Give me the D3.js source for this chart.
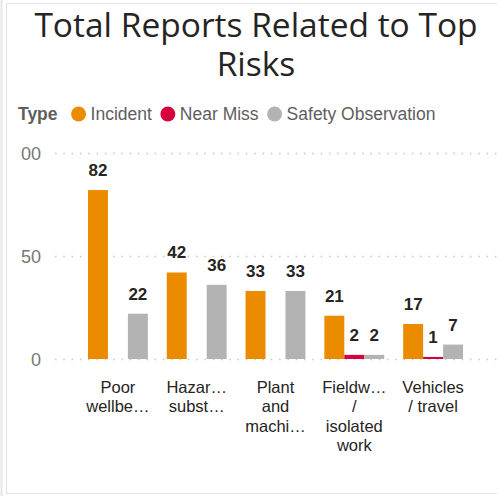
<!DOCTYPE html>
<html>
<head>
<meta charset="utf-8">
<script src="https://cdn.jsdelivr.net/npm/d3@7"></script>
<style>
    body { margin: 0; background: #fff; }
    svg { display: block; }
</style>
</head>
<body>
<svg id="mainSvg" width="497" height="496"></svg>
<script>
// Data
let categories = ["Poor wellbeing", "Hazardous substances", "Plant and machinery", "Fieldwork / isolated work", "Vehicles / travel"];
let labelLines = [
    ["Poor", "wellbe\u2026"],
    ["Hazar\u2026", "subst\u2026"],
    ["Plant", "and", "machi\u2026"],
    ["Fieldw\u2026", "/", "isolated", "work"],
    ["Vehicles", "/ travel"],
];
let types = ["Incident", "Near Miss", "Safety Observation"];
let incident = [82, 42, 33, 21, 17];
let nearMiss = [null, null, null, 2, 1];
let safetyObs = [22, 36, 33, 2, 7];
let yTicks = [0, 50, 100];
let colors = ["#EB8C00", "#D6003D", "#B3B3B3"];

let svg = d3.select("#mainSvg");

// card frame
svg.append("line").attr("x1", 1.5).attr("x2", 1.5).attr("y1", 0).attr("y2", 496)
    .attr("stroke", "#e6e6e6").attr("stroke-width", 2);
svg.append("rect").attr("x", 6.5).attr("y", 3.5).attr("width", 500).attr("height", 490)
    .attr("fill", "none").attr("stroke", "#e3e3e3");

// title (two lines, as wrapped in the reference)
let titleLines = ["Total Reports Related to Top", "Risks"];
svg.append("g")
    .selectAll("text")
    .data(titleLines)
    .join("text")
    .attr("x", 256)
    .attr("y", (d, i) => 37 + i * 39)
    .attr("text-anchor", "middle")
    .attr("font-family", "Open Sans, sans-serif").attr("font-size", 33.5)
    .attr("fill", "#252423")
    .text((d) => d);

// legend
let legend = svg.append("g").attr("font-family", "Liberation Sans, Arial, sans-serif").attr("font-size", 17.5);
let typeLabel = legend.append("text").attr("x", 18).attr("y", 120).attr("font-weight", "bold")
    .attr("fill", "#605E5C").text("Type");
let lx = 18 + typeLabel.node().getComputedTextLength() + 21;
types.forEach(function (t, i) {
    legend.append("circle").attr("cx", lx).attr("cy", 114).attr("r", 7.5).attr("fill", colors[i]);
    let txt = legend.append("text").attr("x", lx + 12).attr("y", 120)
        .attr("fill", "#605E5C").text(t);
    lx = lx + 12 + txt.node().getComputedTextLength() + 16;
});

// scales
let x = d3.scaleBand().domain(categories).range([78.5, 472.5]).paddingInner(0.24).paddingOuter(0.12);
let xSub = d3.scaleBand().domain(types).range([0, x.bandwidth()]);
let y = d3.scaleLinear().domain([0, 100]).range([359, 153]);

// y axis with dotted grid (labels clipped on the left like the reference)
svg.append("clipPath").attr("id", "axisClip").append("rect")
    .attr("x", 21).attr("y", 0).attr("width", 480).attr("height", 496);
let yAxis = svg.append("g").attr("clip-path", "url(#axisClip)")
    .call(d3.axisLeft(y).tickValues(yTicks).tickSize(0).tickPadding(0));
yAxis.select(".domain").remove();
yAxis.selectAll("text")
    .attr("x", 41).attr("dy", "0.35em")
    .attr("font-family", "Liberation Sans, Arial, sans-serif").attr("font-size", 18)
    .attr("fill", "#777");
yAxis.selectAll(".tick").append("line")
    .attr("x1", 55).attr("x2", 497)
    .attr("stroke", "#c8c8c8").attr("stroke-width", 1.5)
    .attr("stroke-dasharray", "1.5,6.8");

// bars
let seriesValues = [incident, nearMiss, safetyObs];
let bars = [];
categories.forEach(function (c, ci) {
    types.forEach(function (t, ti) {
        let v = seriesValues[ti][ci];
        if (v !== null) bars.push({ cat: c, type: t, idx: ti, value: v });
    });
});

let barG = svg.append("g");
barG.selectAll("rect")
    .data(bars)
    .join("rect")
    .attr("x", (d) => x(d.cat) + xSub(d.type))
    .attr("y", (d) => y(d.value))
    .attr("width", xSub.bandwidth())
    .attr("height", (d) => y(0) - y(d.value))
    .attr("fill", (d) => colors[d.idx]);

barG.selectAll("text")
    .data(bars)
    .join("text")
    .attr("x", (d) => x(d.cat) + xSub(d.type) + xSub.bandwidth() / 2)
    .attr("y", (d) => y(d.value) - 14)
    .attr("text-anchor", "middle")
    .attr("font-family", "Liberation Sans, Arial, sans-serif")
    .attr("font-weight", "bold").attr("font-size", 17)
    .attr("fill", "#252423")
    .text((d) => d.value);

// x axis labels
let xLab = svg.append("g")
    .attr("font-family", "Liberation Sans, Arial, sans-serif").attr("font-size", 16.5)
    .attr("fill", "#252423").attr("text-anchor", "middle");
categories.forEach(function (c, ci) {
    let t = xLab.append("text");
    labelLines[ci].forEach(function (line, li) {
        t.append("tspan")
            .attr("x", x(c) + x.bandwidth() / 2)
            .attr("y", 393 + li * 19.3)
            .text(line);
    });
});
</script>
</body>
</html>
